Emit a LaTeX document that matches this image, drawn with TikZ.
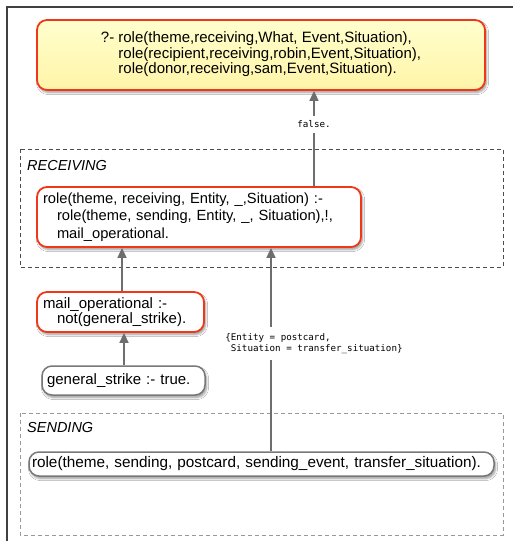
\documentclass[tikz,border=0pt]{standalone}
\usepackage{fontspec}
\setmainfont{Liberation Sans}
\newfontfamily\monof{DejaVu Sans Mono}
\usetikzlibrary{arrows.meta,shadows.blur,calc}
\definecolor{redline}{RGB}{240,55,25}
\definecolor{grayline}{RGB}{110,110,110}
\definecolor{boxgray}{RGB}{120,120,120}
\definecolor{yeltop}{RGB}{255,255,205}
\definecolor{yelbot}{RGB}{255,244,168}
\tikzset{
  rule/.style={rounded corners=10pt, line width=1.8pt, fill=white,
     blur shadow={shadow xshift=1.5pt, shadow yshift=-2.5pt, shadow blur steps=6, shadow opacity=40}},
  redrule/.style={rule, draw=redline},
  grayrule/.style={rule, draw=boxgray, line width=1.5pt},
  arr/.style={draw=grayline, line width=1.6pt, -{Triangle[width=9pt,length=10pt]}},
  lbl/.style={font=\monof\fontsize{9.2}{11.5}\selectfont, fill=white, inner sep=2pt},
  grp/.style={dashed, dash pattern=on 4pt off 3pt, line width=0.9pt},
  grplbl/.style={font=\fontsize{14.5}{16}\selectfont\itshape, anchor=base west, inner sep=0pt},
}
\begin{document}
\begin{tikzpicture}[x=1pt,y=-1pt]
\useasboundingbox (0,0) rectangle (513,541);
\fill[white] (0,0) rectangle (513,541);
% outer frame
\draw[line width=1.3pt, draw=black!75] (7,541) -- (7,7) -- (513,7);
% groups
\draw[grp, draw=black!70] (20,149) rectangle (503,267);
\node[grplbl] (rlab) at (27,170) {RECEIVING};
\draw[grp, draw=black!40] (20,413) rectangle (503,535);
\node[grplbl] (slab) at (27,432) {SENDING};
% nodes
\node[redrule, top color=yeltop, bottom color=yelbot, minimum width=448pt, minimum height=70pt,
      font=\fontsize{15}{15.8}\selectfont] (q) at (261,55)
  {\begin{tabular}{@{}l@{ }l@{}}
   ?- & role(theme,receiving,What, Event,Situation),\\
      & role(recipient,receiving,robin,Event,Situation),\\
      & role(donor,receiving,sam,Event,Situation).
   \end{tabular}};
\node[redrule, minimum width=324pt, minimum height=60pt, inner xsep=6pt, text width=312pt,
      align=left, font=\fontsize{14.7}{17.5}\selectfont] (recv) at (199,217)
  {role(theme, receiving, Entity, \_,Situation) :-\\
   \hspace*{14pt}role(theme, sending, Entity, \_, Situation),!,\\
   \hspace*{14pt}mail\_operational.};
\node[redrule, minimum width=167pt, minimum height=40pt, inner xsep=6pt, text width=155pt,
      align=left, font=\fontsize{15}{15.5}\selectfont] (mo) at (120.5,312)
  {mail\_operational :-\\
   \hspace*{14pt}not(general\_strike).};
\node[grayrule, minimum width=163pt, minimum height=29pt, inner xsep=5pt, text width=153pt,
      align=left, font=\fontsize{15}{16}\selectfont] (gs) at (123.5,380.5)
  {general\_strike :- true.};
\node[grayrule, minimum width=465pt, minimum height=24pt, inner xsep=3pt, text width=459pt,
      align=left, font=\fontsize{15.3}{16}\selectfont] (send) at (261.5,464)
  {role(theme, sending, postcard, sending\_event, transfer\_situation).};
% connectors
\coordinate (c1) at (314,0);
\coordinate (c2) at (124,0);
\coordinate (c3) at (122,0);
\coordinate (c4) at (271,0);
\draw[arr] (recv.north -| c1) -- (q.south -| c1)
  node[lbl, pos=0.65, inner ysep=5pt] (f) {false.};
\draw[arr] (gs.north -| c2) -- (mo.south -| c2);
\draw[arr] (mo.north -| c3) -- (recv.south -| c3);
\draw[arr] (send.north -| c4) -- (recv.south -| c4)
  node[lbl, pos=0.53, xshift=43pt, inner ysep=6pt, align=left] (b)
  {\{Entity = postcard,\\ \phantom{\{}Situation = transfer\_situation\}};
\end{tikzpicture}
\end{document}
